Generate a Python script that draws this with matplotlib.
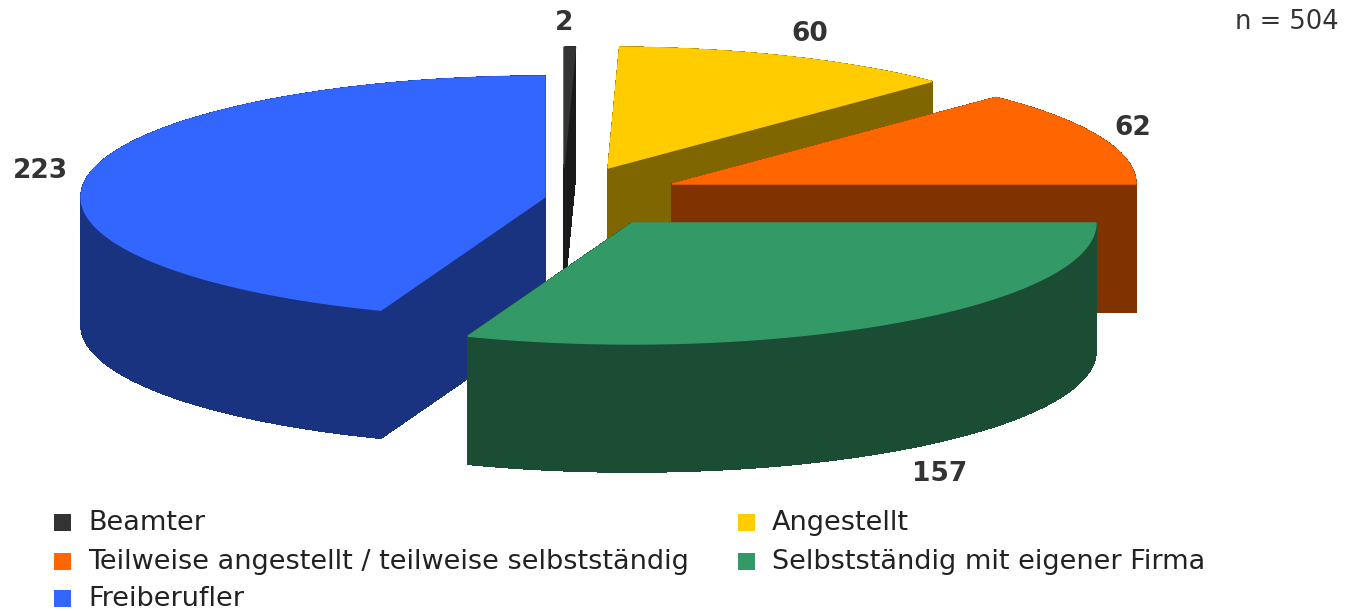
import numpy as np
import matplotlib
matplotlib.use('Agg')
import matplotlib.pyplot as plt
from matplotlib.collections import PolyCollection
from matplotlib.patches import Rectangle

# ── Data ───────────────────────────────────────────────────────────────────────
categories = ['Beamter', 'Angestellt', 'Teilweise angestellt / teilweise selbstständig',
              'Selbstständig mit eigener Firma', 'Freiberufler']
values = [2, 60, 62, 157, 223]
note = 'n = 504'

colors = ['#333333', '#ffcc00', '#ff6600', '#339966', '#3366ff']
wall_colors = ['#1a1a1a', '#806600', '#803300', '#1a4d33', '#1a3380']

# slice centres in picture pixels (exploded pie), label and legend positions
centers = [(564, 168), (608, 168), (672, 184), (632, 223), (545, 197)]
label_pos = [(564, 23), (810, 34), (1133, 128), (940, 474), (40, 171)]
legend_pos = [(63, 522), (747, 522), (63, 561), (747, 561), (63, 598)]
draw_order = [0, 1, 2, 4, 3]

RX, RY, DEPTH = 464, 121, 128

# ── Geometry ───────────────────────────────────────────────────────────────────
def slice_outline(center, start, end):
    a = np.radians(np.linspace(start, end, 120))
    x = center[0] + RX * np.sin(a)
    y = center[1] - RY * np.cos(a)
    return np.vstack([[center], np.column_stack([x, y])])


fig = plt.figure(figsize=(13.47, 6.11), dpi=100)
ax = fig.add_axes([0, 0, 1, 1])
ax.set_xlim(0, 1347)
ax.set_ylim(611, 0)
ax.axis('off')

bounds = np.cumsum([0] + values) / sum(values) * 360
# the original renderer lands the edge close to 3 o'clock exactly on the axis
bounds[np.abs(bounds - 90) < 2] = 90

for i in draw_order:
    outline = slice_outline(centers[i], bounds[i], bounds[i + 1])
    lower = outline + [0, DEPTH]
    # side walls: one quad for every edge of the outline
    quads = []
    n = len(outline)
    for k in range(n):
        m = (k + 1) % n
        quads.append([outline[k], outline[m], lower[m], lower[k]])
    ax.add_collection(PolyCollection(quads, facecolors=wall_colors[i],
                                     edgecolors=wall_colors[i], linewidths=0.5,
                                     antialiaseds=False))
    # thin edge in the face colour hides the wall pixels along the back arc
    ax.fill(outline[:, 0], outline[:, 1], facecolor=colors[i], edgecolor=colors[i],
            linewidth=1.0)

# ── Text ───────────────────────────────────────────────────────────────────────
for v, (x, y) in zip(values, label_pos):
    ax.text(x, y, str(v), ha='center', va='center', fontsize=19, fontweight='bold',
            color='#333333')

ax.text(1339, 22, note, ha='right', va='center', fontsize=18.5, color='#333333')

for name, c, (x, y) in zip(categories, colors, legend_pos):
    ax.add_patch(Rectangle((x - 9, y - 8), 17, 17, facecolor=c, edgecolor='none'))
    ax.text(x + 25, y + 1, name, ha='left', va='center', fontsize=19.5, color='#222222')

fig.savefig('out.png', dpi=100)
